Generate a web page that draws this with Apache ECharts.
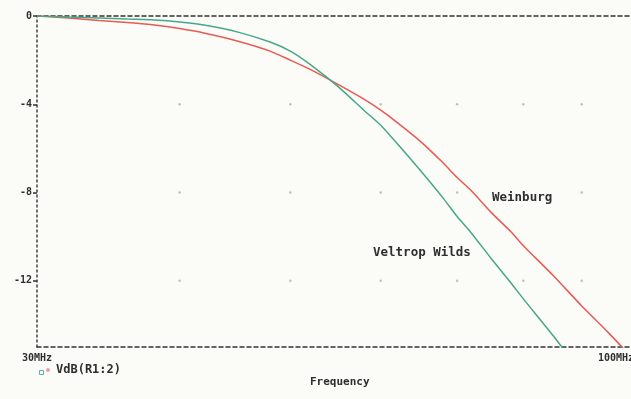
<!DOCTYPE html>
<html><head><meta charset="utf-8">
<script src="https://cdn.jsdelivr.net/npm/echarts@6/dist/echarts.min.js"></script>
<style>html,body{margin:0;padding:0;background:#fbfbf8}#c{width:631px;height:399px}</style>
</head><body><div id="c"></div>
<script>
// Frequency points (MHz)
var freqs = [30,32,34,36,38,40,42,45,48,50,52,55,58,60,62,65,68,70,72,75,78,80,85,90,95,100];
// Weinburg response (dB)
var weinburg = [0,-0.09,-0.2,-0.3,-0.41,-0.57,-0.77,-1.14,-1.59,-2.0,-2.41,-3.09,-3.77,-4.27,-4.82,-5.68,-6.64,-7.32,-7.91,-8.91,-9.77,-10.41,-11.77,-13.14,-14.36,-15.59];
// Veltrop Wilds response (dB)
var veltrop = [0,-0.05,-0.09,-0.14,-0.18,-0.27,-0.41,-0.73,-1.18,-1.59,-2.18,-3.18,-4.27,-4.95,-5.77,-7.0,-8.23,-9.09,-9.82,-11.0,-12.09,-12.82,-14.5,-16.18,-17.6,-19.0];
// Axis tick values
var xTickVals = [30,100];
var xTickLabels = ['30MHz','100MHz'];
var yTickVals = [0,-4,-8,-12];
var gridDotX = [40,50,60,70,80,90];
var gridDotY = [-4,-8,-12];
var traceName = 'VdB(R1:2)';

var font = 'DejaVu Sans Mono';
var txt = '#2e2e2e';
function pairs(xs, ys){ return xs.map(function(x,i){return [x, ys[i]];}); }
var dots = [];
gridDotX.forEach(function(x){ gridDotY.forEach(function(y){ dots.push([x,y]); }); });

var chart = echarts.init(document.getElementById('c'), null, {renderer:'canvas'});
chart.setOption({
  backgroundColor:'#fbfbf8',
  animation:false,
  grid:{left:37, top:16, width:597, height:331, outerBoundsMode:'none', containLabel:false},
  xAxis:[{
    type:'log', logBase:10, min:30, max:100, position:'bottom',
    axisLine:{show:true, onZero:false, lineStyle:{color:'#333', width:1.5, type:[4,3]}},
    axisTick:{show:false},
    splitLine:{show:false}, minorTick:{show:false},
    axisLabel:{show:true, customValues:xTickVals, alignMaxLabel:'right', color:txt, fontFamily:font, fontWeight:'bold', fontSize:10, margin:6, hideOverlap:false,
      formatter:function(v){ var i = xTickVals.indexOf(Math.round(v)); return i>=0 ? xTickLabels[i] : ''; }}
  },{
    type:'log', logBase:10, min:30, max:100, position:'top',
    axisLine:{show:true, onZero:false, lineStyle:{color:'#333', width:1.5, type:[4,3]}},
    axisTick:{show:false}, axisLabel:{show:false}, splitLine:{show:false}
  }],
  yAxis:{
    type:'value', min:-15, max:0,
    axisLine:{show:true, onZero:false, lineStyle:{color:'#444', width:1.5, type:[2,3]}},
    axisTick:{show:true, customValues:yTickVals, length:4, lineStyle:{color:'#333', width:1.5}},
    splitLine:{show:false},
    axisLabel:{show:true, customValues:yTickVals, color:txt, fontFamily:font, fontWeight:'bold', fontSize:10, margin:5}
  },
  series:[{
    name:'Weinburg', type:'line', data:pairs(freqs, weinburg), smooth:0.2, symbol:'none', clip:true,
    lineStyle:{color:'#e85a52', width:1.5},
    markPoint:{symbol:'circle', symbolSize:0, data:[{coord:[79.8,-8.23], label:{show:true, formatter:'Weinburg', color:txt, fontFamily:font, fontWeight:'bold', fontSize:12.5}}]}
  },{
    name:'Veltrop Wilds', type:'line', data:pairs(freqs, veltrop), smooth:0.2, symbol:'none', clip:true,
    lineStyle:{color:'#45a888', width:1.5},
    markPoint:{symbol:'circle', symbolSize:0, data:[{coord:[65.2,-10.73], label:{show:true, formatter:'Veltrop Wilds', color:txt, fontFamily:font, fontWeight:'bold', fontSize:12.5}}]}
  },{
    type:'scatter', data:dots, symbolSize:2.5, itemStyle:{color:'#b0b0b0'}, silent:true
  }],
  graphic:[
    {type:'rect', left:37, top:368, shape:{width:4, height:4}, style:{fill:'none', stroke:'#6aa', lineWidth:1}},
    {type:'circle', left:46, top:368, shape:{r:2}, style:{fill:'#e8a0b0'}},
    {type:'text', left:56, top:364, style:{text:traceName, fill:txt, font:'bold 12px "DejaVu Sans Mono"'}},
    {type:'text', left:310, top:377, style:{text:'Frequency', fill:txt, font:'bold 11px "DejaVu Sans Mono"'}}
  ]
});
</script></body></html>
